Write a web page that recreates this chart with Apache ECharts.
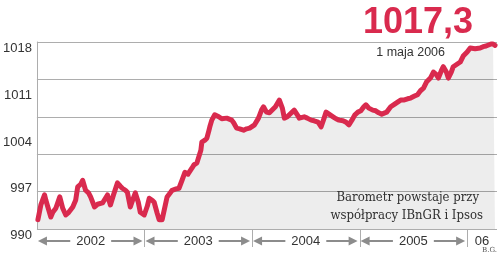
<!DOCTYPE html>
<html><head><meta charset="utf-8">
<script src="https://cdn.jsdelivr.net/npm/echarts@6/dist/echarts.min.js"></script>
<style>html,body{margin:0;padding:0;background:#fff}#c{width:500px;height:254px}</style>
</head><body><div id="c"></div>
<script>
// months since January 2002
const monthIndex = [0.11,0.44,0.85,1.0,1.22,1.55,1.77,2.11,2.55,2.88,3.22,3.55,4.0,4.32,4.55,4.88,5.1,5.43,5.76,5.99,6.43,6.76,6.98,7.32,7.54,7.87,8.2,8.54,8.98,9.31,9.53,9.87,10.09,10.42,10.75,10.98,11.31,11.53,11.97,12.31,12.53,12.86,13.08,13.41,13.64,13.97,14.19,14.52,14.86,15.08,15.52,15.85,16.19,16.52,16.85,17.07,17.29,17.52,17.85,18.07,18.29,18.4,18.74,18.96,19.18,19.29,19.51,19.84,20.29,20.62,20.84,21.18,21.4,21.73,21.95,22.28,22.62,23.06,23.39,23.73,23.95,24.28,24.72,25.06,25.28,25.61,25.94,26.16,26.61,27.05,27.38,27.61,27.94,28.16,28.71,29.05,29.27,29.82,30.16,30.6,30.93,31.37,31.71,32.04,32.26,32.59,33.04,33.37,33.7,34.15,34.48,34.81,35.14,35.48,35.81,36.14,36.47,36.7,37.03,37.47,37.8,38.14,38.47,38.69,39.02,39.47,39.91,40.24,40.58,40.91,41.35,41.69,42.13,42.46,42.79,43.13,43.46,43.9,44.24,44.57,44.79,45.12,45.34,45.68,45.9,46.23,46.45,46.9,47.23,47.56,48.0,48.34,48.56,48.89,49.11,49.45,49.78,50.11,50.33,50.66,50.89,51.11];
const barometer = [991.4,993.6,995.1,994.3,993.3,991.8,992.5,993.1,994.8,993.1,992.1,992.5,993.3,994.3,996.3,996.7,997.3,995.8,995.4,994.8,993.3,993.7,993.9,993.9,993.9,995.1,993.6,995.1,996.9,996.4,996.1,995.8,995.5,993.3,994.6,995.4,994.0,992.5,992.1,993.4,994.6,994.3,994.0,992.4,991.4,991.4,991.6,994.8,995.4,995.8,996.0,996.1,997.3,998.5,998.2,998.1,999.1,999.6,999.9,1000.0,1001.8,1003.0,1003.3,1003.6,1004.7,1005.3,1006.3,1007.1,1006.8,1006.5,1006.3,1006.6,1006.8,1006.3,1005.9,1005.1,1005.0,1004.8,1005.0,1005.1,1005.3,1005.6,1006.6,1007.8,1008.3,1007.5,1007.4,1007.5,1008.3,1009.3,1008.1,1006.6,1006.8,1007.1,1007.8,1007.1,1006.6,1006.8,1006.6,1006.3,1006.2,1006.0,1005.3,1006.6,1007.5,1007.2,1006.8,1006.5,1006.3,1006.2,1006.0,1005.6,1006.3,1007.1,1007.5,1007.7,1008.3,1008.6,1008.1,1007.8,1007.7,1007.4,1007.2,1007.1,1007.5,1008.3,1008.7,1009.0,1009.3,1009.3,1009.5,1009.6,1009.9,1010.1,1010.7,1011.1,1012.0,1012.6,1013.5,1013.1,1012.6,1013.7,1014.3,1013.5,1012.6,1013.5,1014.3,1014.7,1015.0,1015.9,1016.5,1017.1,1017.3,1017.0,1016.8,1017.1,1017.3,1017.4,1017.6,1017.7,1017.7,1017.5];
const yTickLabels = [990, 997, 1004, 1011, 1018];
const years = [{label:'2002', from:0, to:12, arrows:true},{label:'2003', from:12, to:24, arrows:true},{label:'2004', from:24, to:36, arrows:true},{label:'2005', from:36, to:48, arrows:true},{label:'06', from:48, to:51.33, arrows:false}];
const separators = [12, 24, 36, 48];
const latestValue = '1017,3';
const latestDate = '1 maja 2006';
const note = ['Barometr powstaje przy', 'współpracy IBnGR i Ipsos'];

const RED = '#d92a4e';
const GRID = '#adadad';
const chart = echarts.init(document.getElementById('c'), null, {renderer:'canvas'});
const xMax = 51.33;
chart.setOption({
  animation:false,
  backgroundColor:'#fff',
  grid:{left:34, right:3, top:42, bottom:25},
  xAxis:{type:'value', min:0, max:xMax, show:true,
    axisLine:{show:false}, axisTick:{show:false}, axisLabel:{show:false}, splitLine:{show:false}},
  yAxis:[
    {type:'value', min:990, max:1018, interval:5.6, position:'left',
     axisLine:{show:true, lineStyle:{color:GRID, width:1}}, axisTick:{show:false}, axisLabel:{show:false},
     splitLine:{show:true, lineStyle:{color:GRID, width:1}}},
    {type:'value', min:990, max:1018, interval:7, position:'left',
     axisLine:{show:false}, axisTick:{show:false}, splitLine:{show:false},
     axisLabel:{show:true, color:'#333', fontSize:13, fontFamily:'Liberation Sans, Arial, sans-serif', margin:5, verticalAlign:'top', lineHeight:13,
       formatter:(v)=> yTickLabels.includes(Math.round(v)) ? String(Math.round(v)) : ''}}
  ],
  series:[{type:'line', data: monthIndex.map((m,i)=>[m, barometer[i]]), showSymbol:false, smooth:false,
    lineStyle:{color:RED, width:5, join:'round', cap:'round'},
    areaStyle:{color:'rgba(0,0,0,0.1)', origin:'start'}, z:3}]
});

function build(){
  const ctx = document.createElement('canvas').getContext('2d');
  const yearFont = '13px "Liberation Sans", Arial, sans-serif';
  ctx.font = yearFont;
  const yBase = chart.convertToPixel({yAxisIndex:0}, 990);
  const ay = yBase + 12;
  const g = [];
  const ARW = '#8c8c8c';
  separators.forEach(s=>{
    const x = Math.round(chart.convertToPixel({xAxisIndex:0}, s)) + 0.5;
    g.push({type:'line', shape:{x1:x, y1:yBase, x2:x, y2:yBase+18}, style:{stroke:GRID, lineWidth:1}, silent:true});
  });
  years.forEach(y=>{
    const s = chart.convertToPixel({xAxisIndex:0}, y.from);
    const e = chart.convertToPixel({xAxisIndex:0}, y.to);
    const mid = (s+e)/2;
    const w = ctx.measureText(y.label).width;
    g.push({type:'text', style:{text:y.label, x:mid, y:ay, align:'center', verticalAlign:'middle', font:yearFont, fill:'#333'}});
    if (y.arrows){
      const l = mid - w/2 - 6, r = mid + w/2 + 6;
      g.push({type:'polygon', shape:{points:[[s+1,ay],[s+10,ay-4.5],[s+10,ay+4.5]]}, style:{fill:ARW}});
      g.push({type:'line', shape:{x1:s+9, y1:ay, x2:l, y2:ay}, style:{stroke:ARW, lineWidth:2}});
      g.push({type:'line', shape:{x1:r, y1:ay, x2:e-9, y2:ay}, style:{stroke:ARW, lineWidth:2}});
      g.push({type:'polygon', shape:{points:[[e-2,ay],[e-11,ay-4.5],[e-11,ay+4.5]]}, style:{fill:ARW}});
    }
  });
  g.push({type:'text', style:{text:latestValue, x:473, y:23, align:'right', verticalAlign:'middle', font:'bold 36px "Liberation Sans", Arial, sans-serif', fill:RED}});
  g.push({type:'text', style:{text:latestDate, x:445, y:53, align:'right', verticalAlign:'middle', font:'12.5px "Liberation Sans", Arial, sans-serif', fill:'#333'}});
  g.push({type:'text', style:{text:note[0], x:479, y:198, align:'right', verticalAlign:'middle', font:'13px "DejaVu Serif Condensed", "DejaVu Serif", serif', fill:'#333'}});
  g.push({type:'text', style:{text:note[1], x:483, y:216, align:'right', verticalAlign:'middle', font:'13px "DejaVu Serif Condensed", "DejaVu Serif", serif', fill:'#333'}});
  g.push({type:'text', style:{text:'B.G.', x:497, y:250, align:'right', verticalAlign:'middle', font:'7px "DejaVu Serif", serif', fill:'#555'}});
  chart.setOption({graphic:g});
}
build();
</script></body></html>
